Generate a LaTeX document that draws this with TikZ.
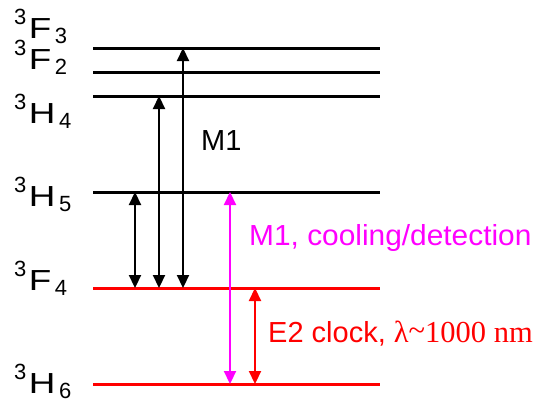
\documentclass[tikz,border=0pt]{standalone}
\usepackage{fontspec}
\setmainfont{Liberation Sans}
\newfontfamily\serifrm{Liberation Serif}
\usetikzlibrary{arrows.meta}
\definecolor{fuchsia}{RGB}{255,0,255}
\definecolor{clockred}{RGB}{255,0,0}
\newcommand{\term}[3]{{\fontsize{22}{22}\selectfont\raisebox{14pt}{#1}}\hspace{2.5pt}{\fontsize{29}{32}\selectfont\scalebox{1.27}[1]{#2}}\hspace{3.5pt}{\fontsize{22}{22}\selectfont\raisebox{-5pt}{#3}}}

\begin{document}
\begin{tikzpicture}[x=1pt, y=-1pt,
  every node/.style={font=\fontsize{29}{34}\selectfont, inner sep=0pt},
  level/.style={line width=3pt},
  trans/.style={{Triangle[width=12pt,length=13pt]}-{Triangle[width=12pt,length=13pt]}, line width=2.2pt}]
  \useasboundingbox (0,0) rectangle (553,407);
  % energy levels
  \coordinate (F3) at (93,48);
  \coordinate (F2) at (93,72);
  \coordinate (H4) at (93,96);
  \coordinate (H5) at (93,192);
  \coordinate (F4) at (93,288);
  \coordinate (H6) at (93,384);
  \draw[level] (F3) -- ++(287,0);
  \draw[level] (F2) -- ++(287,0);
  \draw[level] (H4) -- ++(287,0);
  \draw[level] (H5) -- ++(287,0);
  \draw[level, clockred] (F4) -- ++(287,0);
  \draw[level, clockred] (H6) -- ++(287,0);
  % term labels
  \node[anchor=base west] (lF3) at (14,38) {\term{3}{F}{3}};
  \node[anchor=base west] (lF2) at (14,69) {\term{3}{F}{2}};
  \node[anchor=base west] (lH4) at (14,123) {\term{3}{H}{4}};
  \node[anchor=base west] (lH5) at (14,206) {\term{3}{H}{5}};
  \node[anchor=base west] (lF4) at (14,290) {\term{3}{F}{4}};
  \node[anchor=base west] (lH6) at (14,393) {\term{3}{H}{6}};
  % transitions
  \coordinate (a1) at (135,0);
  \coordinate (a2) at (159,0);
  \coordinate (a3) at (183,0);
  \coordinate (a4) at (230,0);
  \coordinate (a5) at (255,0);
  \draw[trans] (a1 |- H5) -- (a1 |- F4);
  \draw[trans] (a2 |- H4) -- (a2 |- F4);
  \draw[trans] (a3 |- F3) -- (a3 |- F4);
  \draw[trans, fuchsia] (a4 |- H5) -- (a4 |- H6);
  \draw[trans, clockred] (a5 |- F4) -- (a5 |- H6);
  % labels
  \node[anchor=base west] (m1) at (201,150) {M1};
  \node[anchor=base west, fuchsia] (cool) at (249,245) {\scalebox{1.03}[1]{M1, cooling/detection}};
  \node[anchor=base west, clockred] (clock) at (268,342) {E2 clock, {\serifrm\fontsize{30.5}{34}\selectfont λ\raisebox{2pt}{\textasciitilde}1000 nm}};
\end{tikzpicture}
\end{document}
